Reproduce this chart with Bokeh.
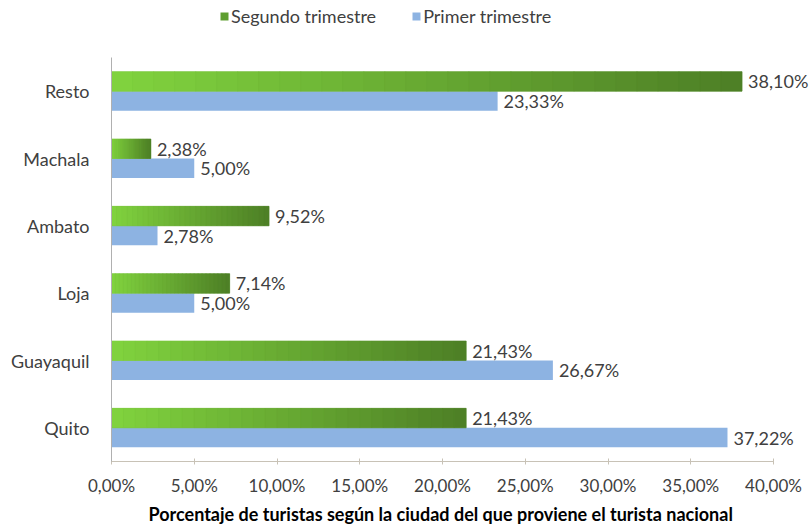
from bokeh.plotting import figure
from bokeh.layouts import column
from bokeh.models import FactorRange, FixedTicker, Legend, LegendItem, ColumnDataSource, Title
from bokeh.transform import dodge
from bokeh.core.properties import value
from bokeh.embed import file_html
from bokeh.resources import INLINE

cities = ["Quito", "Guayaquil", "Loja", "Ambato", "Machala", "Resto"]
segundo = [21.43, 21.43, 7.14, 9.52, 2.38, 38.10]
primer = [37.22, 26.67, 5.00, 2.78, 5.00, 23.33]
x_ticks = [0, 5, 10, 15, 20, 25, 30, 35, 40]
x_tick_labels = ["0,00%", "5,00%", "10,00%", "15,00%", "20,00%", "25,00%", "30,00%", "35,00%", "40,00%"]
series_names = ["Segundo trimestre", "Primer trimestre"]
x_title = "Porcentaje de turistas según la ciudad del que proviene el turista nacional"

FONT = "Lato"
TXT = "#404040"
BLUE = "#8db3e2"
G_LIGHT = (128, 210, 62)
G_DARK = (78, 128, 38)
G_MID = "#5e9e30"

def fmt(v):
    return ("%.2f" % v).replace(".", ",") + "%"

W = 809
LEG_H = 45
MAIN_H = 486
BL, BT, BB = 111, 12, 70
frame_w = W - BL
x_end = 40 * frame_w / 662.0

# ---------- legend strip ----------
pl = figure(width=W, height=LEG_H, x_range=(0, 1), y_range=(0, 1),
            output_backend="svg", toolbar_location=None,
            x_axis_location=None, y_axis_location=None,
            min_border_left=0, min_border_right=0, min_border_top=0, min_border_bottom=0)
pl.outline_line_color = None
pl.grid.grid_line_color = None
# legend-only renderers (their single bar lies outside the visible range)
lg_g = pl.hbar(y=[-5], right=[-4], left=[-5], height=1, fill_color=G_MID, line_color=None)
lg_b = pl.hbar(y=[-5], right=[-4], left=[-5], height=1, fill_color=BLUE, line_color=None)
legend = Legend(items=[LegendItem(label=series_names[0], renderers=[lg_g]),
                       LegendItem(label=series_names[1], renderers=[lg_b])],
                location=(108, 18), orientation="horizontal",
                glyph_width=10, glyph_height=10, label_standoff=2, spacing=35,
                padding=0, margin=0, border_line_color=None, background_fill_alpha=0,
                label_text_font=FONT, label_text_font_size="18px", label_text_color=TXT)
pl.add_layout(legend)

# ---------- main chart ----------
p = figure(width=W, height=MAIN_H, y_range=FactorRange(factors=cities), x_range=(0, x_end),
           output_backend="svg", toolbar_location=None,
           min_border_left=BL, min_border_right=0, min_border_top=BT, min_border_bottom=BB)
p.y_range.range_padding = 0
p.outline_line_color = None
p.grid.grid_line_color = None
p.background_fill_color = "white"

H = 0.29
OFF = 0.145

src_b = ColumnDataSource(dict(city=cities, v=primer, lab=[fmt(v) for v in primer]))
p.hbar(y=dodge("city", -OFF, range=p.y_range), right="v", left=0, height=H,
       source=src_b, fill_color=BLUE, line_color=None)

src_g = ColumnDataSource(dict(city=cities, v=segundo, lab=[fmt(v) for v in segundo]))
p.hbar(y=dodge("city", OFF, range=p.y_range), right="v", left=0, height=H,
       source=src_g, fill_color=G_MID, line_color=None)

N = 30
gy, gl, gr, gc = [], [], [], []
for c, v in zip(cities, segundo):
    for i in range(N):
        t = i / (N - 1)
        col = tuple(int(round(G_LIGHT[k] + (G_DARK[k] - G_LIGHT[k]) * t)) for k in range(3))
        gy.append(c)
        gl.append(v * i / N)
        gr.append(v * (i + 1) / N)
        gc.append("#%02x%02x%02x" % col)
src_grad = ColumnDataSource(dict(city=gy, l=gl, r=gr, c=gc))
p.hbar(y=dodge("city", OFF, range=p.y_range), left="l", right="r", height=H,
       source=src_grad, fill_color="c", line_color="c", line_width=0.6)

p.text(x="v", y=dodge("city", OFF, range=p.y_range), text="lab", source=src_g,
       x_offset=6, text_baseline="middle", text_align="left",
       text_font=value(FONT), text_font_size="18px", text_color=TXT)
p.text(x="v", y=dodge("city", -OFF, range=p.y_range), text="lab", source=src_b,
       x_offset=6, text_baseline="middle", text_align="left",
       text_font=value(FONT), text_font_size="18px", text_color=TXT)

p.xaxis.ticker = FixedTicker(ticks=x_ticks)
p.xaxis.bounds = (0, 40)
p.xaxis.major_label_overrides = {t: s for t, s in zip(x_ticks, x_tick_labels)}
p.xaxis.axis_line_color = "#c8c2b6"
p.xaxis.major_tick_line_color = "#c8c2b6"
p.xaxis.major_tick_in = 3
p.xaxis.major_tick_out = 3
p.xaxis.minor_tick_line_color = None
p.xaxis.major_label_text_font = FONT
p.xaxis.major_label_text_font_size = "17px"
p.xaxis.major_label_text_color = TXT
p.xaxis.major_label_standoff = 10

xt = Title(text=x_title, align="left", offset=37, standoff=4,
           text_font=FONT, text_font_style="bold", text_font_size="18px", text_color="black")
p.add_layout(xt, "below")

p.yaxis.axis_line_color = "#b0b0b0"
p.yaxis.major_tick_line_color = None
p.yaxis.major_tick_out = 0
p.yaxis.major_tick_in = 0
p.yaxis.major_label_text_font = FONT
p.yaxis.major_label_text_font_size = "18px"
p.yaxis.major_label_text_color = TXT
p.yaxis.major_label_standoff = 22

layout = column(pl, p, spacing=0)
open("out.html", "w").write(file_html(layout, INLINE))
